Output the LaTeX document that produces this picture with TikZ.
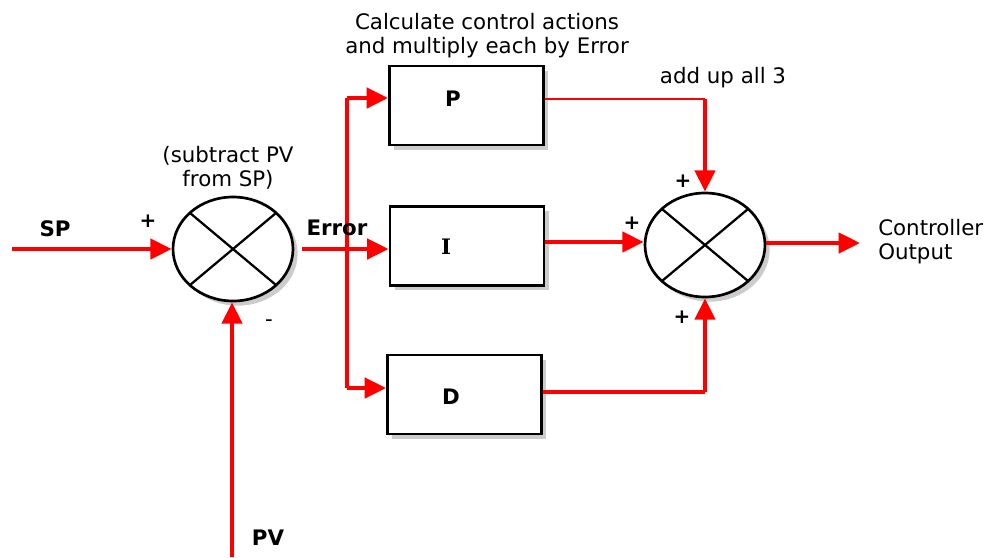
\documentclass[tikz,border=0pt]{standalone}
\usepackage{fontspec}
\setmainfont{DejaVu Sans}
\newfontfamily\serifbold{DejaVu Serif}
\usetikzlibrary{arrows.meta,shapes.geometric,shadows,calc}
\definecolor{wire}{HTML}{FF0000}
\tikzset{
  box/.style={draw=black, line width=2.2pt, fill=white, minimum width=115.5pt, minimum height=59.25pt, inner sep=0pt,
    drop shadow={opacity=0.4, shadow xshift=3.5pt, shadow yshift=-3.5pt}},
  sumnode/.style={ellipse, draw=black, line width=2pt, fill=white, minimum width=90pt, minimum height=78pt, inner sep=0pt,
    drop shadow={opacity=0.4, shadow xshift=3.5pt, shadow yshift=-3.5pt}},
  crossline/.style={draw=black, line width=1.7pt},
  wirethick/.style={draw=wire, line width=3.3pt},
  wiremid/.style={draw=wire, line width=2.3pt},
  wirethin/.style={draw=wire, line width=1.8pt},
  arr/.style={-{Triangle[length=16pt,width=15pt]}},
  txt/.style={font=\fontsize{16}{18}\selectfont, text=black, inner sep=0pt, align=center},
  boldtxt/.style={font=\fontsize{16}{18}\selectfont\bfseries, text=black, inner sep=0pt},
  sign/.style={font=\fontsize{15}{17}\selectfont\bfseries, text=black, inner sep=0pt},
}
\begin{document}
\begin{tikzpicture}[x=0.75pt,y=-0.75pt]
\useasboundingbox (0,0) rectangle (987,557);

% coordinates for wire ends and corners
\coordinate (spin) at (12,249);
\coordinate (pvin) at (232,557);
\coordinate (bt) at (347,98);
\coordinate (bb) at (347,388);
\coordinate (pc) at (705,99);
\coordinate (iy) at (0,242);
\coordinate (dc) at (705,392);
\coordinate (out) at (860,243);

% blocks
\node[box] (pbox) at (466.5,105.5) {};
\node[box] (ibox) at (467,246) {};
\node[box] (dbox) at (464.5,394.5) {};
\node[sumnode] (s1) at (233,249) {};
\node[sumnode] (s2) at (705,245) {};
\foreach \s in {s1,s2}{
  \draw[crossline] ($(\s.center)+(-43,-36)$) -- ($(\s.center)+(43,36)$);
  \draw[crossline] ($(\s.center)+(43,-36)$) -- ($(\s.center)+(-43,36)$);
}
\node[boldtxt] (lp) at (453,99) {P};
\node[font=\fontsize{16}{18}\serifbold\bfseries\selectfont, inner sep=0pt] (li) at (446,247) {I};
\node[boldtxt] (ld) at (451,397) {D};

% wires
\draw[wirethick,arr] (spin) -- (s1.west);
\draw[wirethick,arr] (pvin) -- (pvin |- s1.south);
\draw[wirethick,arr,shorten <=6pt] (s1.east) -- (s1.east -| ibox.west);
\draw[wiremid] (bt) -- (bb);
\draw[wirethick,arr] (bt) -- (bt -| pbox.west);
\draw[wirethick,arr] (bb) -- (bb -| dbox.west);
\draw[wirethin] (pbox.east |- pc) -- (pc);
\draw[wirethick,arr] (pc) -- (s2.north);
\draw[wirethick,arr] (ibox.east |- iy) -- (s2.west |- iy);
\draw[wiremid] (dbox.east |- dc) -- (dc);
\draw[wirethick,arr] (dc) -- (s2.south);
\draw[wirethick,arr] (s2.east |- out) -- (out);

% texts
\node[txt] (calc) at (487,36) {Calculate control actions\\and multiply each by Error};
\node[txt] (sub) at (228,168) {(subtract PV\\from SP)};
\node[txt] (add) at (723,78) {add up all 3};
\node[txt, align=left, anchor=west] (co) at (878,242) {Controller\\Output};
\node[boldtxt] (sp) at (55,229) {SP};
\node[boldtxt] (err) at (337,228) {Error};
\node[boldtxt] (pv) at (268,538) {PV};

% signs
\node[sign] (p1) at (148,221) {+};
\node[font=\fontsize{16}{18}\selectfont, inner sep=0pt] (m1) at (269,323) {-};
\node[sign] (p2) at (683,181) {+};
\node[sign] (p3) at (632,223) {+};
\node[sign] (p4) at (682,317) {+};
\end{tikzpicture}
\end{document}
